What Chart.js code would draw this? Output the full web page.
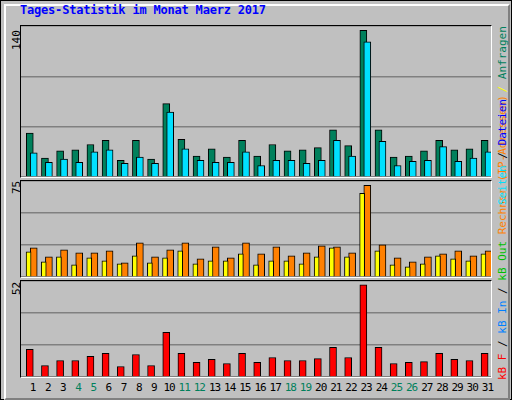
<!DOCTYPE html>
<html>
<head>
<meta charset="utf-8">
<script src="https://cdn.jsdelivr.net/npm/chart.js@4"></script>
<style>
	body { margin: 0; width: 512px; height: 400px; overflow: hidden; background: #fff; }
	#frame { position: absolute; left: 0; top: 0; width: 510px; height: 398px; border: 1px solid #000; background: #c0c0c0; }
	#inner { position: absolute; left: 3px; top: 3px; width: 502px; height: 392px; border-top: 2px solid #fff; border-left: 2px solid #fff; border-right: 2px solid #808080; border-bottom: 2px solid #808080; }
	.txt { position: absolute; font-family: 'DejaVu Sans Mono', monospace; font-size: 11px; white-space: nowrap; }
	.rot { transform-origin: left top; transform: rotate(-90deg); }
	.panel { position: absolute; left: 20px; width: 470px; border-top: 1px solid #000; border-left: 1px solid #000; border-right: 1px solid #fff; border-bottom: 1px solid #fff; }
	.panel canvas { display: block; }
</style>
</head>
<body>
<div id="frame"><div id="inner"></div></div>
<div class="txt" style="left:20px;top:3px;color:#0000ff;font-weight:bold;font-size:12px;letter-spacing:-0.2px;">Tages-Statistik im Monat Maerz 2017</div>
<div class="txt rot" style="left:10px;top:50px;">140</div>
<div class="txt rot" style="left:10px;top:194px;">75</div>
<div class="txt rot" style="left:10px;top:295px;">52</div>
<div class="txt rot" style="left:496px;top:380px;"><span style="color:#ff0000">kB F</span> / <span style="color:#0080ff">kB In</span> / <span style="color:#00c000">kB Out</span> <span style="color:#ff8000">Rechner (IP-Adressen)</span></div>
<div class="txt rot" style="left:496px;top:205px;"><span style="color:#00e0ff">Seiten</span> / <span style="color:#0000ff">Dateien</span> <span style="color:#ffff00">/</span> <span style="color:#00805c">Anfragen</span></div>
<div class="panel" style="top:25px;height:151px;"><canvas id="c1"></canvas></div>
<div class="panel" style="top:180px;height:96px;"><canvas id="c2"></canvas></div>
<div class="panel" style="top:280px;height:96px;"><canvas id="c3"></canvas></div>
<div id="days"></div>
<script>
const days = ['1','2','3','4','5','6','7','8','9','10','11','12','13','14','15','16','17','18','19','20','21','22','23','24','25','26','27','28','29','30','31'];
const weekend = [4, 5, 11, 12, 18, 19, 25, 26];

const anfragen = [42, 18, 25, 26, 31, 35, 16, 35, 17, 70, 36, 20, 27, 19, 35, 20, 31, 25, 26, 28, 45, 30, 140, 45, 19, 20, 25, 35, 26, 27, 35];
const dateien = [23, 14, 17, 14, 24, 26, 13, 19, 13, 62, 27, 16, 14, 14, 24, 11, 16, 16, 13, 16, 35, 20, 129, 34, 11, 15, 16, 29, 15, 18, 24];
const besuche = [20.6, 12.5, 16.5, 10, 15.7, 13.3, 10.8, 17.3, 11.6, 15.7, 21.4, 10.8, 13.3, 13.3, 19, 10, 13.3, 13.3, 10.8, 16.5, 23.8, 16.5, 68.5, 21.4, 10, 8.4, 10.8, 17.3, 14.9, 13.3, 19];
const rechner = [23.8, 16.5, 22.2, 19.8, 19.8, 21.4, 11.6, 27.9, 16.5, 22.2, 27.9, 14.9, 24.6, 15.7, 27.9, 19, 24.6, 17.3, 19.8, 25.5, 24.6, 19.8, 75, 26.3, 15.7, 12.5, 16.5, 19, 21.4, 17.3, 21.4];
const kbF = [15.6, 6.5, 9.3, 9.3, 11.6, 13.3, 5.9, 12.7, 6.5, 25.2, 13.3, 8.2, 9.9, 7.6, 13.3, 8.2, 11, 9.3, 9.3, 10.4, 16.7, 11, 52, 16.7, 7.6, 8.2, 8.7, 13.3, 9.9, 9.3, 13.3];

const series = (values, offset, color, width) => ({
	data: values.map((v, i) => ({ x: i + 1 + offset, y: v })),
	backgroundColor: color,
	borderColor: '#000',
	borderWidth: 1,
	borderSkipped: 'bottom',
	barThickness: width,
	grouped: false,
});

const panelOptions = (datasets, max) => ({
	type: 'bar',
	data: { datasets },
	options: {
		responsive: false,
		animation: false,
		layout: { padding: 0 },
		plugins: { legend: { display: false }, tooltip: { enabled: false } },
		scales: {
			x: { type: 'linear', min: 0.5, max: 31.5, offset: false, display: false },
			y: {
				min: 0, max, ticks: { display: false, stepSize: max / 3 },
				grid: { color: '#808080', lineWidth: 1.5, drawTicks: false },
				border: { display: false },
				afterFit: (s) => { s.width = 0; },
			},
		},
	},
});

function makeChart(id, w, h, datasets, max) {
	const c = document.getElementById(id);
	c.width = w; c.height = h;
	return new Chart(c, panelOptions(datasets, max));
}

makeChart('c1', 470, 151, [
	series(dateien, 0.34, '#00e0ff', 7),
	series(anfragen, 0.08, '#00805c', 7),
], 144.1);
makeChart('c2', 470, 96, [
	series(besuche, 0.0, '#ffff00', 5),
	series(rechner, 0.34, '#ff8000', 7),
], 78.5);
makeChart('c3', 470, 96, [
	series(kbF, 0.08, '#ff0000', 7),
], 54.1);

const dayBox = document.getElementById('days');
days.forEach((d, i) => {
	const el = document.createElement('div');
	el.className = 'txt';
	el.textContent = d;
	el.style.top = '381px';
	el.style.letterSpacing = '-1px';
	el.style.left = (20 + (i + 0.5) * 15.16 + 5 - d.length * 2.8) + 'px';
	el.style.color = weekend.includes(i + 1) ? '#00805c' : '#000';
	dayBox.appendChild(el);
});
</script>
</body>
</html>
